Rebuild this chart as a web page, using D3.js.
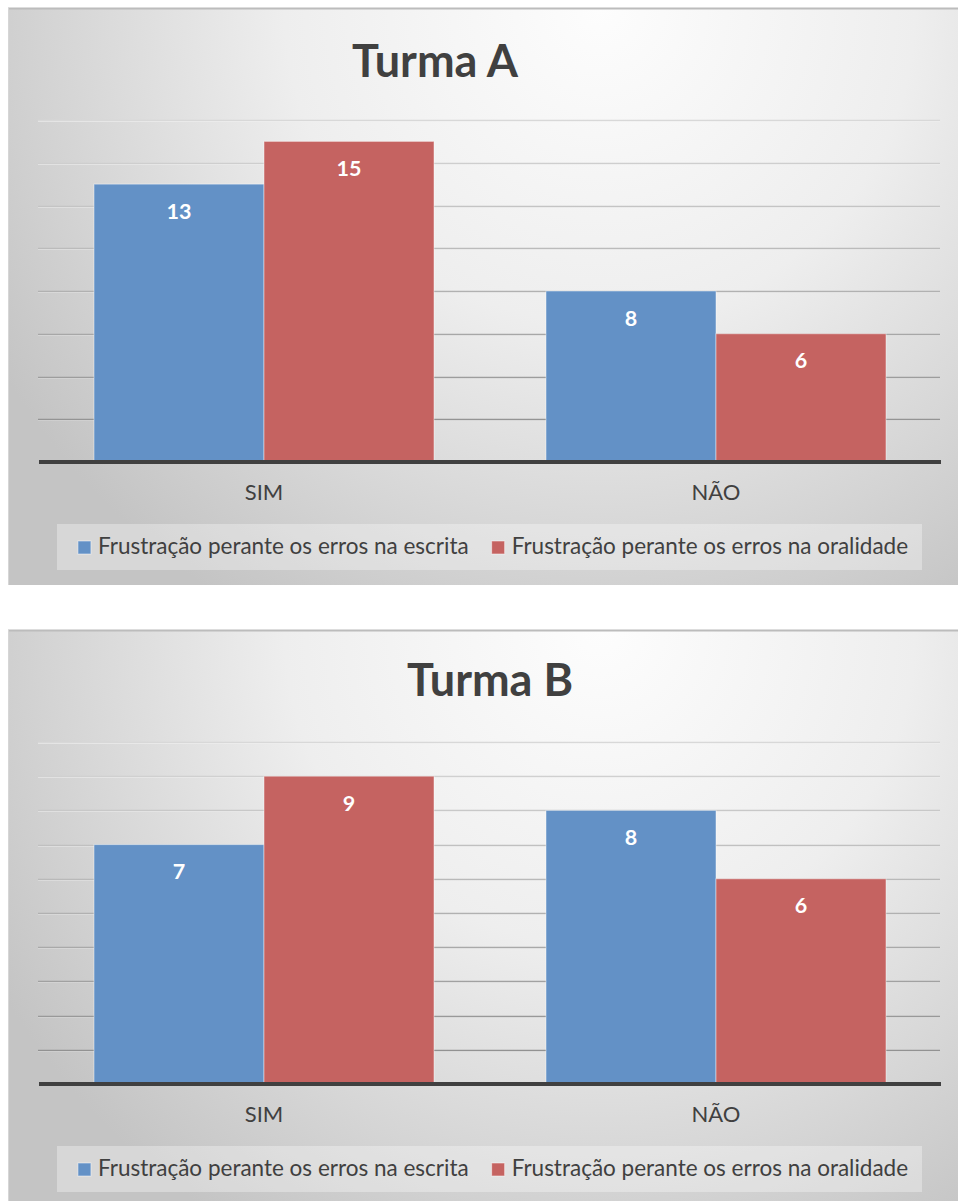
<!DOCTYPE html>
<html><head><meta charset="utf-8">
<script src="https://cdn.jsdelivr.net/npm/d3@7"></script>
<style>html,body{margin:0;padding:0;background:#fff;}svg{display:block;}</style>
</head><body>
<script>
// ---- data ----
const categories = ["SIM", "NÃO"];
const seriesNames = ["Frustração perante os erros na escrita", "Frustração perante os erros na oralidade"];
const turmaA_escrita = [13, 8];
const turmaA_oralidade = [15, 6];
const turmaB_escrita = [7, 8];
const turmaB_oralidade = [9, 6];
const turmaA_ticks = [0, 2, 4, 6, 8, 10, 12, 14, 16];
const turmaB_ticks = [0, 1, 2, 3, 4, 5, 6, 7, 8, 9, 10];

const colors = ["#6391c6", "#c56361"];
const FONT = "Lato, 'Open Sans', sans-serif";

const charts = [
  {title: "Turma A", series: [turmaA_escrita, turmaA_oralidade], ticks: turmaA_ticks, top: 8, titleX: 435, titleY: 69},
  {title: "Turma B", series: [turmaB_escrita, turmaB_oralidade], ticks: turmaB_ticks, top: 630, titleX: 490, titleY: 66}
];

const W = 958, H = 1201;
const svg = d3.select("body").append("svg").attr("width", W).attr("height", H);
const defs = svg.append("defs");

charts.forEach((c, ci) => {
  const panelX = 8, panelW = 960, panelH = 577;
  const g = svg.append("g").attr("transform", `translate(0,${c.top})`);

  const gid = "bg" + ci;
  const rg = defs.append("radialGradient").attr("id", gid)
    .attr("gradientUnits", "userSpaceOnUse")
    .attr("cx", 600).attr("cy", 0).attr("r", 700);
  rg.append("stop").attr("offset", 0).attr("stop-color", "#fdfdfd");
  rg.append("stop").attr("offset", 0.45).attr("stop-color", "#eeeeee");
  rg.append("stop").attr("offset", 1).attr("stop-color", "#c4c4c4");

  g.append("rect").attr("x", panelX).attr("y", 0).attr("width", panelW).attr("height", panelH)
    .attr("fill", `url(#${gid})`);
  g.append("line").attr("x1", panelX).attr("x2", W).attr("y1", 0.5).attr("y2", 0.5)
    .attr("stroke", "#bcbcbc").attr("stroke-width", 2);
  g.append("line").attr("x1", panelX + 0.5).attr("x2", panelX + 0.5).attr("y1", 0).attr("y2", panelH)
    .attr("stroke", "#d6d6d6").attr("stroke-width", 1);

  const plotTop = 112, plotBottom = 454, plotLeft = 38, plotRight = 940;
  const maxV = c.ticks[c.ticks.length - 1];
  const y = d3.scaleLinear().domain([0, maxV]).range([plotBottom, plotTop]);
  const x0 = d3.scaleBand().domain(categories).range([plotLeft, plotRight + 2]).padding(0);
  const x1 = d3.scaleBand().domain([0, 1]).range([56, 396]).padding(0);

  // gridlines (color darker toward bottom)
  const gc = d3.interpolateRgb("#d8d8d8", "#8a8a8a");
  c.ticks.slice(1).forEach(t => {
    const yy = Math.round(y(t)) + 0.5;
    const frac = (yy - plotTop) / (plotBottom - plotTop);
    g.append("line").attr("x1", plotLeft).attr("x2", plotRight)
      .attr("y1", yy + 1).attr("y2", yy + 1)
      .attr("stroke", "#ffffff").attr("stroke-opacity", 0.5).attr("stroke-width", 1);
    g.append("line").attr("x1", plotLeft).attr("x2", plotRight)
      .attr("y1", yy).attr("y2", yy)
      .attr("stroke", gc(frac)).attr("stroke-width", 1.6);
  });

  // bars
  categories.forEach((cat, i) => {
    c.series.forEach((s, si) => {
      const bx = x0(cat) + x1(si);
      const v = s[i];
      g.append("rect")
        .attr("x", bx).attr("y", y(v))
        .attr("width", x1.bandwidth()).attr("height", y(0) - y(v))
        .attr("fill", colors[si])
        .attr("stroke", "#ffffff").attr("stroke-opacity", 0.45).attr("stroke-width", 1);
      g.append("text")
        .attr("x", bx + x1.bandwidth() / 2).attr("y", y(v) + 34.5)
        .attr("text-anchor", "middle")
        .attr("font-family", FONT).attr("font-weight", 700).attr("font-size", 21.5)
        .attr("fill", "#ffffff").text(v);
    });
  });

  // baseline axis
  const axis = d3.axisBottom(x0).tickSize(0).tickPadding(0);
  const ag = g.append("g").attr("transform", `translate(0,${y(0)})`).call(axis);
  ag.select(".domain").attr("stroke", "#404040").attr("stroke-width", 4)
    .attr("d", `M${plotLeft + 1},0H${plotRight + 1}`);
  ag.selectAll(".tick text")
    .attr("y", 0).attr("dy", 0)
    .attr("transform", "translate(0,38)")
    .attr("font-family", FONT).attr("font-size", 22)
    .attr("fill", "#404040");

  // title
  g.append("text").attr("x", c.titleX).attr("y", c.titleY)
    .attr("text-anchor", "middle")
    .attr("font-family", FONT).attr("font-weight", 700).attr("font-size", 45)
    .attr("fill", "#404040").text(c.title);

  // legend
  const lgTop = 516, lgH = 46;
  g.append("rect").attr("x", 57).attr("y", lgTop).attr("width", 865).attr("height", lgH)
    .attr("fill", "#ffffff").attr("fill-opacity", 0.32);
  const lg = g.append("g");
  let cx = 0;
  seriesNames.forEach((name, si) => {
    const it = lg.append("g").attr("transform", `translate(${cx},0)`);
    it.append("rect").attr("x", 0).attr("y", lgTop + 17).attr("width", 13).attr("height", 13)
      .attr("fill", colors[si]).attr("stroke", "#ffffff").attr("stroke-opacity", 0.5).attr("stroke-width", 1);
    const t = it.append("text").attr("x", 20).attr("y", lgTop + 30)
      .attr("font-family", FONT).attr("font-size", 22.5).attr("fill", "#404040").text(name);
    const tw = t.node().getComputedTextLength();
    cx += 20 + tw + 23;
  });
  const totalW = cx - 23;
  lg.attr("transform", `translate(${493 - totalW / 2},0)`);
});
</script>
</body></html>
